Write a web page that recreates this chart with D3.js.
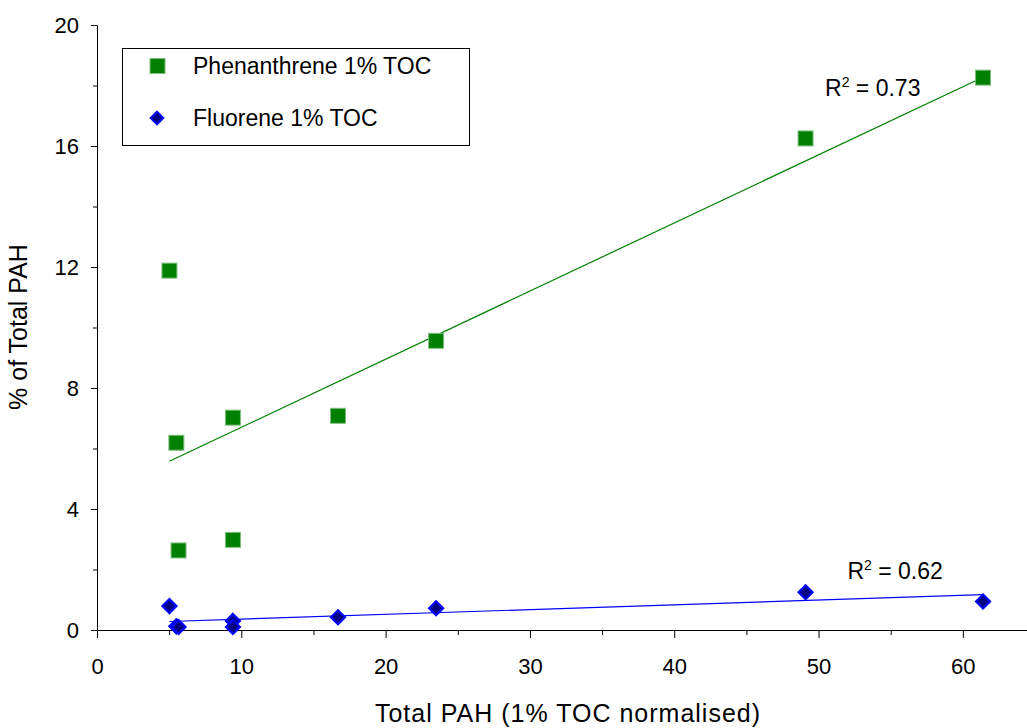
<!DOCTYPE html>
<html>
  <head>
    <title>PAH scatter</title>
    <script src="https://d3js.org/d3.v7.min.js"></script>
    <style>
      body { margin: 0; background: #fff; }
      text { font-family: Arial, "Liberation Sans", sans-serif; fill: #000; }
    </style>
  </head>
  <body>
    <div id="chart"></div>
    <script>
      // total PAH (1% TOC normalised) for each sample
      const totalPAH = [5.02, 5.5, 5.65, 9.42, 9.42, 16.7, 23.5, 49.1, 61.4];
      // % of total PAH
      const phenanthrene = [11.88, 6.19, 2.63, 7.02, 2.98, 7.08, 9.56, 16.25, 18.26];
      const fluorene = [0.79, 0.12, 0.10, 0.30, 0.10, 0.42, 0.72, 1.25, 0.94];

      const seriesNames = ["Phenanthrene 1% TOC", "Fluorene 1% TOC"];
      const r2Labels = ["0.73", "0.62"];
      // where the R² labels sit, in data units
      const r2Anchor = [[50.45, 17.64], [52.0, 1.69]];

      const xTicks = [0, 10, 20, 30, 40, 50, 60];
      const xMinor = [5, 15, 25, 35, 45, 55];
      const yTicks = [0, 4, 8, 12, 16, 20];
      const yMinor = [2, 6, 10, 14, 18];

      const width = 1027;
      const height = 728;

      const svg = d3.select("#chart")
        .append("svg")
        .attr("width", width)
        .attr("height", height);

      const x = d3.scaleLinear()
        .domain([0, 65])
        .range([97, 1035]);

      const y = d3.scaleLinear()
        .domain([0, 20])
        .range([630, 25]);

      // axes
      svg.append("g")
        .attr("transform", "translate(0," + y(0) + ")")
        .call(d3.axisBottom(x).tickValues(xTicks).tickSize(8).tickSizeOuter(0).tickPadding(20));
      svg.append("g")
        .attr("transform", "translate(0," + y(0) + ")")
        .call(d3.axisBottom(x).tickValues(xMinor).tickSize(5).tickFormat(""))
        .select(".domain").remove();

      svg.append("g")
        .attr("transform", "translate(" + x(0) + ",0)")
        .call(d3.axisLeft(y).tickValues(yTicks).tickSize(6).tickSizeOuter(0).tickPadding(12));
      svg.append("g")
        .attr("transform", "translate(" + x(0) + ",0)")
        .call(d3.axisLeft(y).tickValues(yMinor).tickSize(4).tickFormat(""))
        .select(".domain").remove();

      svg.selectAll(".tick text")
        .style("font-size", "22px");
      svg.selectAll(".domain, .tick line")
        .attr("stroke", "#000");

      // axis titles
      svg.append("text")
        .attr("x", 568)
        .attr("y", 722)
        .attr("text-anchor", "middle")
        .style("font-size", "25px")
        .style("letter-spacing", "1px")
        .text("Total PAH (1% TOC normalised)");

      svg.append("text")
        .attr("transform", "translate(27,327) rotate(-90)")
        .attr("text-anchor", "middle")
        .style("font-size", "25px")
        .text("% of Total PAH");

      // least squares fit
      function fit(xs, ys) {
        const mx = d3.mean(xs), my = d3.mean(ys);
        let sxy = 0, sxx = 0;
        xs.forEach((v, i) => {
          sxy += (v - mx) * (ys[i] - my);
          sxx += (v - mx) * (v - mx);
        });
        const slope = sxy / sxx;
        return v => my + slope * (v - mx);
      }

      const xExt = d3.extent(totalPAH);
      const lineColors = ["#008000", "#0000ff"];
      [phenanthrene, fluorene].forEach((ys, i) => {
        const f = fit(totalPAH, ys);
        svg.append("line")
          .attr("x1", x(xExt[0]))
          .attr("y1", y(f(xExt[0])))
          .attr("x2", x(xExt[1]))
          .attr("y2", y(f(xExt[1])))
          .attr("stroke", lineColors[i])
          .attr("stroke-width", 1.2);
      });

      // points
      const pts = totalPAH.map((v, i) => ({ x: v, phen: phenanthrene[i], fluo: fluorene[i] }));

      const diamond = "M0,-7L7,0L0,7L-7,0Z";

      svg.selectAll(".fluo")
        .data(pts)
        .enter()
        .append("path")
        .attr("class", "fluo")
        .attr("d", diamond)
        .attr("transform", d => "translate(" + x(d.x) + "," + y(d.fluo) + ")")
        .attr("fill", "#000080")
        .attr("stroke", "#0000ff")
        .attr("stroke-width", 2.2);

      svg.selectAll(".phen")
        .data(pts)
        .enter()
        .append("rect")
        .attr("class", "phen")
        .attr("x", d => x(d.x) - 7.5)
        .attr("y", d => y(d.phen) - 7.5)
        .attr("width", 15)
        .attr("height", 15)
        .attr("fill", "#008000")
        .attr("stroke", "#7fbf7f")
        .attr("stroke-width", 1);

      // R² labels
      r2Labels.forEach((lab, i) => {
        const t = svg.append("text")
          .attr("x", x(r2Anchor[i][0]))
          .attr("y", y(r2Anchor[i][1]))
          .style("font-size", "23px");
        t.append("tspan").text("R");
        t.append("tspan").attr("dy", -9).style("font-size", "14px").text("2");
        t.append("tspan").attr("dy", 9).text(" = " + lab);
      });

      // legend
      const legend = svg.append("g");
      legend.append("rect")
        .attr("x", 122.5)
        .attr("y", 48.5)
        .attr("width", 347)
        .attr("height", 97)
        .attr("fill", "none")
        .attr("stroke", "#000")
        .attr("stroke-width", 1);

      legend.append("rect")
        .attr("x", 150)
        .attr("y", 58.5)
        .attr("width", 15)
        .attr("height", 15)
        .attr("fill", "#008000")
        .attr("stroke", "#7fbf7f");
      legend.append("path")
        .attr("d", diamond)
        .attr("transform", "translate(157,118) scale(0.9)")
        .attr("fill", "#000080")
        .attr("stroke", "#0000ff")
        .attr("stroke-width", 2.2);

      seriesNames.forEach((name, i) => {
        legend.append("text")
          .attr("x", 193)
          .attr("y", 74 + i * 52)
          .style("font-size", "23px")
          .text(name);
      });
    </script>
  </body>
</html>
